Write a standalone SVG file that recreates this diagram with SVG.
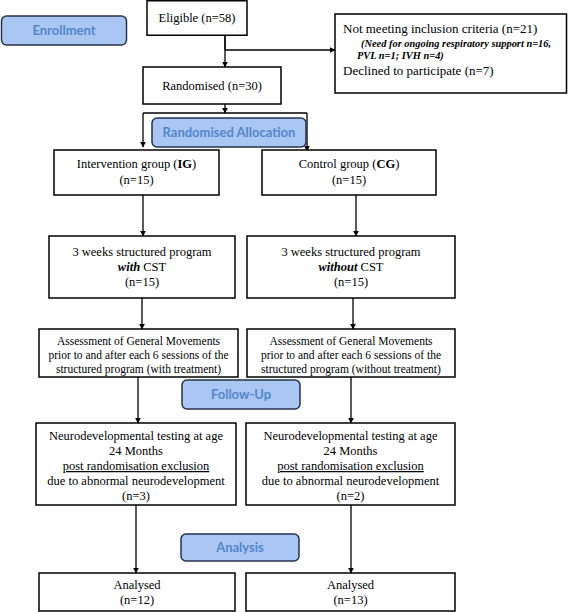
<svg xmlns="http://www.w3.org/2000/svg" width="568" height="612" viewBox="0 0 568 612">
<defs>
<marker id="ah" viewBox="0 0 10 10" refX="9" refY="5" markerWidth="6" markerHeight="6" markerUnits="userSpaceOnUse" orient="auto">
<path d="M0,0 L10,5 L0,10 z" fill="#000"/>
</marker>
</defs>
<style>
.box{fill:#fff;stroke:#000;stroke-width:1.5}
.pill{fill:#a9c7f2;stroke:#26324a;stroke-width:1.5}
.pt{font-family:Lato,"Open Sans","Liberation Sans",sans-serif;font-weight:bold;font-size:13px;fill:#5486cc;text-anchor:middle}
.t{font-family:"Liberation Serif","Times New Roman",serif;font-size:12.5px;fill:#000;text-anchor:middle}
.ts{font-family:"Liberation Serif","Times New Roman",serif;font-size:11.5px;fill:#000;text-anchor:middle}
.tl{font-family:"Liberation Serif","Times New Roman",serif;font-size:13px;fill:#000}
.ti{font-family:"Liberation Serif","Times New Roman",serif;font-size:10.4px;font-style:italic;font-weight:bold;fill:#000}
.c{fill:none;stroke:#000;stroke-width:1.3}
.ca{fill:none;stroke:#000;stroke-width:1.3;marker-end:url(#ah)}
</style>
<rect width="568" height="612" fill="#fff"/>

<g id="connectors">
<path class="c" d="M225,35 L225,50"/>
<path class="ca" d="M225,50 L335,50"/>
<path class="ca" d="M225,35 L225,67"/>
<path class="ca" d="M225,104 L225,113"/>
<path class="c" d="M143,113 L307,113"/>
<path class="ca" d="M143,113 L143,147"/>
<path class="ca" d="M307,113 L307,151"/>
<path class="ca" d="M143,195 L143,236"/>
<path class="ca" d="M356,195 L356,236"/>
<path class="ca" d="M142,298 L142,329"/>
<path class="ca" d="M353,298 L353,329"/>
<path class="ca" d="M138,377 L138,423"/>
<path class="ca" d="M351,377 L351,423"/>
<path class="ca" d="M136,505 L136,573"/>
<path class="ca" d="M351,505 L351,573"/>
</g>

<g id="enrollment">
<rect class="pill" x="1.5" y="16" width="125" height="29" rx="5"/>
<text class="pt" x="64" y="35">Enrollment</text>
</g>

<g id="eligible">
<rect class="box" x="147" y="0.75" width="100" height="34.5"/>
<text class="t" x="197" y="22">Eligible (n=58)</text>
</g>

<g id="excluded">
<rect class="box" x="335" y="14" width="231.5" height="79"/>
<text class="tl" x="343" y="33">Not meeting inclusion criteria (n=21)</text>
<text class="ti" x="361" y="47">(Need for ongoing respiratory support n=16,</text>
<text class="ti" x="357" y="59">PVL n=1; IVH n=4)</text>
<text class="tl" x="343" y="75">Declined to participate (n=7)</text>
</g>

<g id="randomised">
<rect class="box" x="143" y="67" width="138" height="37"/>
<text class="t" x="212" y="90">Randomised (n=30)</text>
</g>

<g id="allocation">
<rect class="pill" x="152" y="118" width="154" height="29" rx="5"/>
<text class="pt" x="229" y="137">Randomised Allocation</text>
</g>

<g id="ig">
<rect class="box" x="54" y="150" width="165" height="45"/>
<text class="t" x="136.5" y="168">Intervention group (<tspan font-weight="bold">IG</tspan>)</text>
<text class="t" x="136.5" y="184">(n=15)</text>
</g>

<g id="cg">
<rect class="box" x="262" y="150" width="174" height="45"/>
<text class="t" x="349" y="168">Control group (<tspan font-weight="bold">CG</tspan>)</text>
<text class="t" x="349" y="184">(n=15)</text>
</g>

<g id="ig-program">
<rect class="box" x="49" y="236" width="186" height="62"/>
<text class="t" x="142" y="256">3 weeks structured program</text>
<text class="t" x="142" y="271"><tspan font-weight="bold" font-style="italic">with</tspan> CST</text>
<text class="t" x="142" y="286">(n=15)</text>
</g>

<g id="cg-program">
<rect class="box" x="247" y="236" width="208" height="62"/>
<text class="t" x="351" y="256">3 weeks structured program</text>
<text class="t" x="351" y="271"><tspan font-weight="bold" font-style="italic">without</tspan> CST</text>
<text class="t" x="351" y="286">(n=15)</text>
</g>

<g id="ig-assessment">
<rect class="box" x="39" y="329" width="199" height="48"/>
<text class="ts" x="138.5" y="345">Assessment of General Movements</text>
<text class="ts" x="138.5" y="359">prior to and after each 6 sessions of the</text>
<text class="ts" x="138.5" y="373">structured program (with treatment)</text>
</g>

<g id="cg-assessment">
<rect class="box" x="247" y="329" width="208" height="48"/>
<text class="ts" x="351" y="345">Assessment of General Movements</text>
<text class="ts" x="351" y="359">prior to and after each 6 sessions of the</text>
<text class="ts" x="351" y="373">structured program (without treatment)</text>
</g>

<g id="followup">
<rect class="pill" x="182" y="380" width="118" height="29" rx="5"/>
<text class="pt" x="241" y="399">Follow-Up</text>
</g>

<g id="ig-neuro">
<rect class="box" x="36" y="423" width="200" height="82"/>
<text class="t" x="136" y="440">Neurodevelopmental testing at age</text>
<text class="t" x="136" y="455">24 Months</text>
<text class="t" x="136" y="470" text-decoration="underline">post randomisation exclusion</text>
<text class="t" x="136" y="485">due to abnormal neurodevelopment</text>
<text class="t" x="136" y="500">(n=3)</text>
</g>

<g id="cg-neuro">
<rect class="box" x="246" y="423" width="209" height="82"/>
<text class="t" x="350.5" y="440">Neurodevelopmental testing at age</text>
<text class="t" x="350.5" y="455">24 Months</text>
<text class="t" x="350.5" y="470" text-decoration="underline">post randomisation exclusion</text>
<text class="t" x="350.5" y="485">due to abnormal neurodevelopment</text>
<text class="t" x="350.5" y="500">(n=2)</text>
</g>

<g id="analysis">
<rect class="pill" x="181" y="534" width="118" height="27" rx="5"/>
<text class="pt" x="240" y="552">Analysis</text>
</g>

<g id="ig-analysed">
<rect class="box" x="39" y="573" width="196" height="38"/>
<text class="t" x="137" y="589">Analysed</text>
<text class="t" x="137" y="604">(n=12)</text>
</g>

<g id="cg-analysed">
<rect class="box" x="246" y="573" width="209" height="38"/>
<text class="t" x="350.5" y="589">Analysed</text>
<text class="t" x="350.5" y="604">(n=13)</text>
</g>
</svg>
